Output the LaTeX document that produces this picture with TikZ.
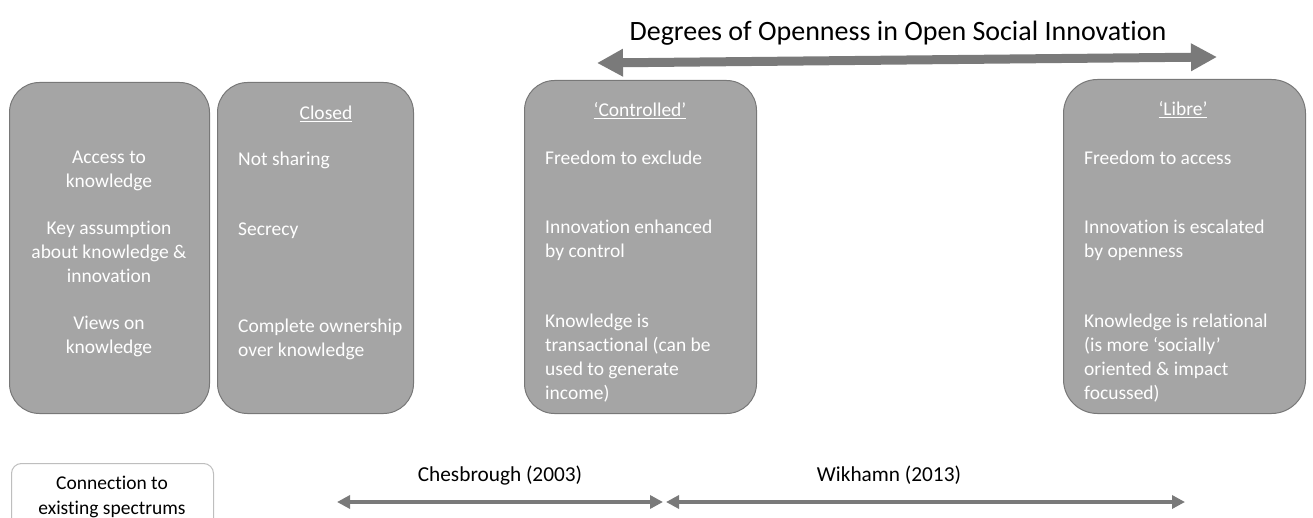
\documentclass[tikz,border=0pt]{standalone}
\usepackage{fontspec}
\setmainfont{Carlito}[Ligatures=NoCommon]
\usetikzlibrary{arrows.meta}
\definecolor{boxfill}{RGB}{165,165,165}
\definecolor{boxline}{RGB}{120,120,120}
\definecolor{arrowgray}{RGB}{122,122,122}
\definecolor{framegray}{RGB}{190,190,190}
\begin{document}
\begin{tikzpicture}[x=1pt,y=-1pt,
  panel/.style={draw=boxline, line width=1pt, fill=boxfill, rounded corners=30pt,
    inner sep=0pt, anchor=north west},
  celltext/.style={text=white, font=\fontsize{19.5}{24}\selectfont, inner sep=0pt},
  lefttext/.style={celltext, align=left, anchor=base west},
  midtext/.style={celltext, align=center, anchor=base},
  plaintext/.style={text=black, inner sep=0pt, anchor=base},
  bigspan/.style={draw=arrowgray, line width=9pt,
    {Triangle[width=26pt,length=26pt]}-{Triangle[width=26pt,length=26pt]}},
  smallspan/.style={draw=arrowgray, line width=4pt,
    {Triangle[width=13pt,length=13pt]}-{Triangle[width=13pt,length=13pt]}}
]
\useasboundingbox (0,0) rectangle (1313,518);
\clip (0,0) rectangle (1313,518);

% title and the openness spectrum
\node[plaintext, font=\fontsize{28}{33}\selectfont] (title) at (898,41)
  {Degrees of Openness in Open Social Innovation};
\coordinate (specL) at (597,63);
\coordinate (specR) at (1217,57);
\draw[bigspan] (specL) -- (specR);

% panels
\node[panel, minimum width=200pt, minimum height=331pt] (rows) at (9,82) {};
\node[panel, minimum width=196pt, minimum height=331pt] (closed) at (217,82) {};
\node[panel, minimum width=232pt, minimum height=333pt] (controlled) at (524,80) {};
\node[panel, minimum width=242pt, minimum height=334pt, rounded corners=34pt] (libre) at (1063,79) {};

% row headings (a multi-line node sits on the baseline of its last line)
\node[midtext] (rowA) at (109,188) {Access to\\knowledge};
\node[midtext] (rowB) at (109,283) {Key assumption\\about knowledge \&\\innovation};
\node[midtext] (rowC) at (109,353) {Views on\\knowledge};

% closed
\node[midtext] (closedT) at (326,120) {\underline{Closed}};
\node[lefttext] (closedA) at (238,166) {Not sharing};
\node[lefttext] (closedB) at (238,236) {Secrecy};
\node[lefttext] (closedC) at (238,356) {Complete ownership\\over knowledge};

% controlled
\node[midtext] (ctrlT) at (640,117) {\underline{‘Controlled’}};
\node[lefttext] (ctrlA) at (545,165) {Freedom to exclude};
\node[lefttext] (ctrlB) at (545,258) {Innovation enhanced\\by control};
\node[lefttext] (ctrlC) at (545,399) {Knowledge is\\transactional (can be\\used to generate\\income)};

% libre
\node[midtext] (libreT) at (1183,116) {\underline{‘Libre’}};
\node[lefttext] (libreA) at (1084,165) {Freedom to access};
\node[lefttext] (libreB) at (1084,258) {Innovation is escalated\\by openness};
\node[lefttext] (libreC) at (1084,399) {Knowledge is relational\\(is more ‘socially’\\oriented \& impact\\focussed)};

% existing spectrums
\node[draw=framegray, line width=1pt, fill=white, rounded corners=10pt, inner sep=0pt,
  minimum width=202pt, minimum height=80pt, anchor=north west] (legend) at (11,463) {};
\node[plaintext, align=center, font=\fontsize{19.5}{25}\selectfont] (legendT) at (112,514)
  {Connection to\\existing spectrums};

\coordinate (chesL) at (337,502);
\coordinate (chesR) at (663,502);
\coordinate (wikL) at (666,502);
\coordinate (wikR) at (1185,502);
\draw[smallspan] (chesL) -- (chesR);
\draw[smallspan] (wikL) -- (wikR);
\node[plaintext, font=\fontsize{21.3}{25}\selectfont] (ches) at (500,481) {Chesbrough (2003)};
\node[plaintext, font=\fontsize{21.3}{25}\selectfont] (wik) at (889,481) {Wikhamn (2013)};
\end{tikzpicture}
\end{document}
